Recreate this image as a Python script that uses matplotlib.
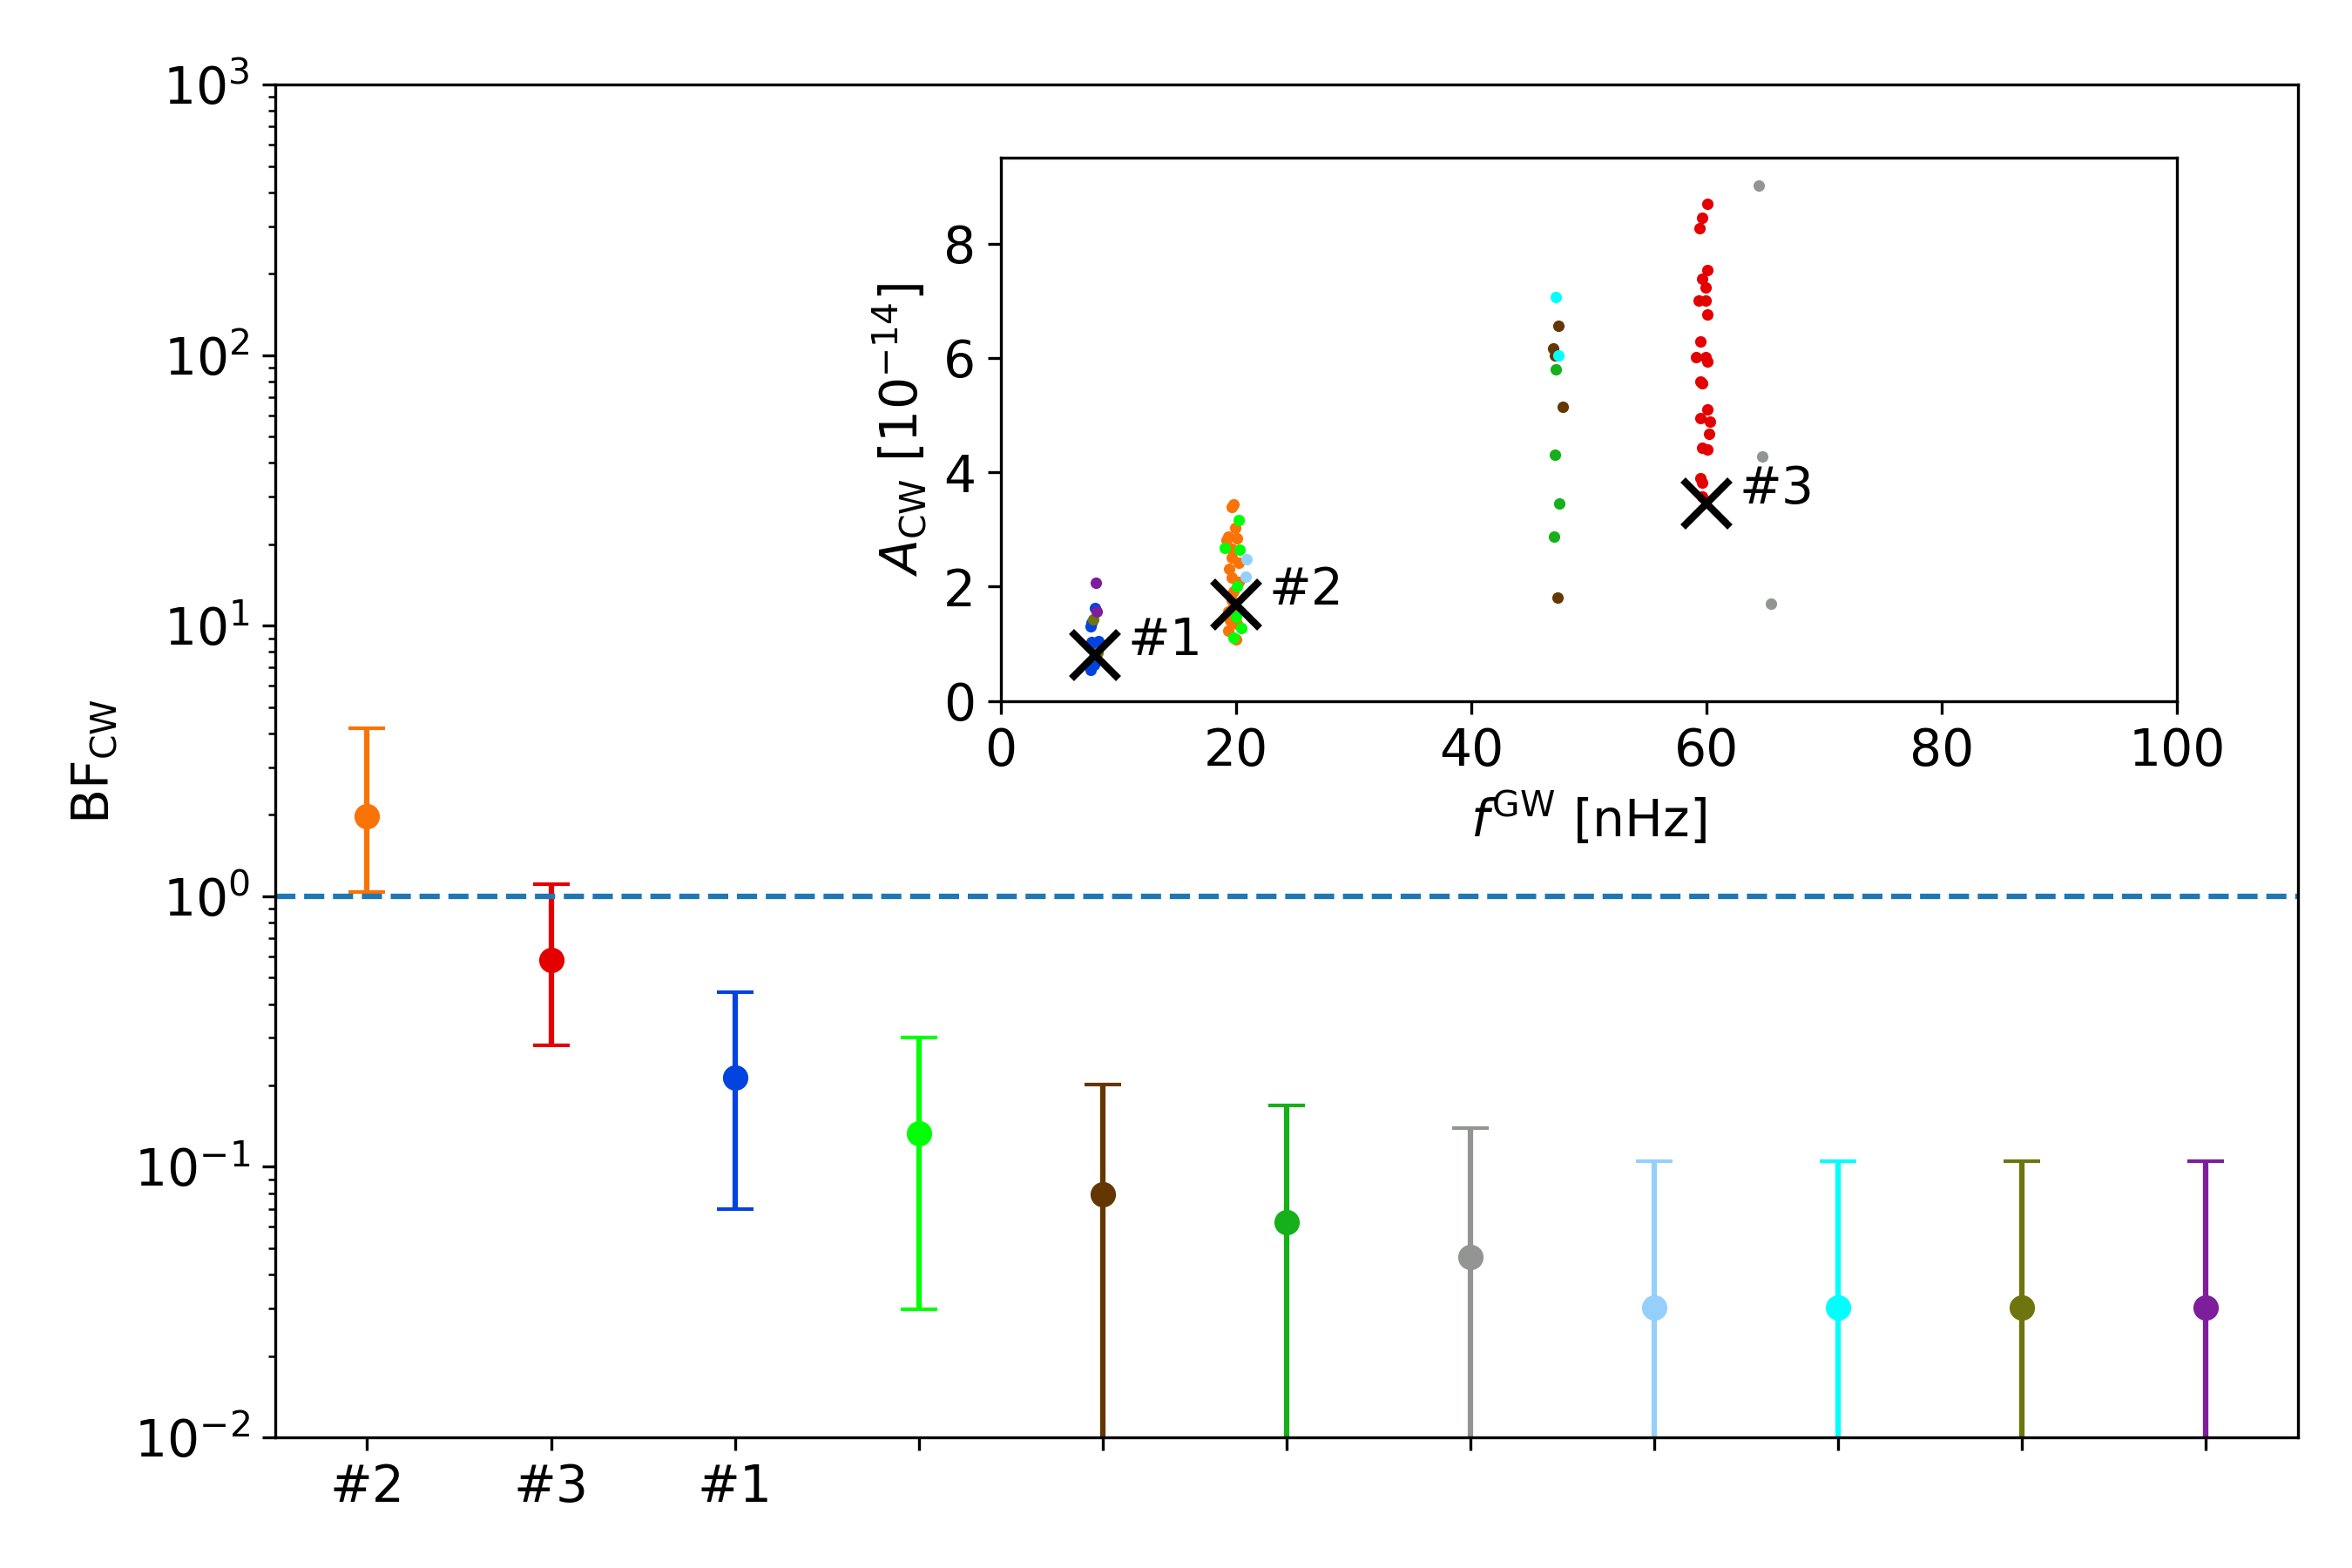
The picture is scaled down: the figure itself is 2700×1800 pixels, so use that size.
"""Bayes factors for continuous-wave candidates, with an inset of their recovered amplitudes."""

import matplotlib

matplotlib.use("Agg")
import matplotlib.pyplot as plt

plt.rcParams["font.size"] = 14

# main panel: one entry per candidate, ordered by median Bayes factor
TICK_LABELS = ["#2", "#3", "#1", "", "", "", "", "", "", "", ""]
COLORS = [
    "#f97306", "#e50000", "#0343df", "#01ff07", "#653700", "#15b01a",
    "#929591", "#95d0fc", "#00ffff", "#6e750e", "#7e1e9c",
]
BF_MEDIAN = [1.97, 0.583, 0.214, 0.133, 0.0794, 0.0623, 0.0464, 0.0302, 0.0302, 0.0302, 0.0302]
BF_UPPER = [4.19, 1.108, 0.441, 0.300, 0.202, 0.169, 0.139, 0.105, 0.105, 0.105, 0.105]
BF_LOWER = [1.04, 0.282, 0.070, 0.0297, 0.0, 0.0, 0.0, 0.0, 0.0, 0.0, 0.0]

# inset: recovered (frequency [nHz], amplitude [1e-14]) samples, grouped by colour
ORANGE_F = [19.8, 19.6, 19.9, 19.3, 20.1, 19.2, 19.6, 19.6, 20.2, 19.4, 19.6, 20.2, 19.8,
            19.6, 19.3, 19.5, 19.3, 20.0, 19.7, 20.1]
ORANGE_A = [3.44, 3.39, 3.02, 2.87, 2.85, 2.81, 2.66, 2.51, 2.41, 2.31, 2.16, 2.08, 1.91,
            1.76, 1.56, 1.41, 1.23, 1.08, 1.62, 1.35]
RED_F = [60.1, 59.6, 59.4, 60.1, 59.6, 59.9, 59.3, 59.9, 60.1, 59.5, 59.1, 59.9, 60.1,
         59.5, 59.6, 60.1, 59.5, 60.3, 60.2, 59.6, 60.1, 59.5, 59.6, 59.6]
RED_A = [8.69, 8.45, 8.27, 7.53, 7.38, 7.23, 7.00, 7.01, 6.76, 6.28, 6.01, 6.01, 5.94,
         5.59, 5.55, 5.10, 4.95, 4.89, 4.67, 4.43, 4.39, 3.89, 3.82, 3.58]
BLUE_F = [7.97, 7.7, 7.6, 7.7, 8.3, 8.1, 7.7, 7.95, 7.6, 8.4, 7.9]
BLUE_A = [1.62, 1.36, 1.30, 1.03, 1.05, 0.90, 0.63, 0.63, 0.55, 0.98, 0.75]
LIME_F = [20.2, 19.0, 20.3, 20.1, 20.0, 20.4, 19.8]
LIME_A = [3.17, 2.68, 2.65, 2.00, 1.47, 1.27, 1.10]
BROWN_F = [47.4, 46.95, 47.1, 47.8, 47.3]
BROWN_A = [6.56, 6.17, 6.04, 5.15, 1.81]
GREEN_F = [47.2, 47.1, 47.5, 47.0]
GREEN_A = [5.80, 4.30, 3.45, 2.87]
GREY_F = [64.4, 64.7, 65.5]
GREY_A = [9.02, 4.28, 1.70]
LIGHTBLUE_F = [20.9, 20.8]
LIGHTBLUE_A = [2.47, 2.18]
CYAN_F = [47.2, 47.4]
CYAN_A = [7.07, 6.05]
OLIVE_F = [7.85, 8.2]
OLIVE_A = [1.42, 0.85]
PURPLE_F = [8.1, 8.11]
PURPLE_A = [2.06, 1.57]

# labelled candidates in the inset
CANDIDATE_NAMES = ["#1", "#2", "#3"]
CANDIDATE_F = [8.0, 20.0, 60.0]
CANDIDATE_A = [0.8, 1.68, 3.45]


def main() -> None:
    figure = plt.figure(figsize=(9, 6), dpi=300)
    figure.subplots_adjust(left=0.117, right=0.977, bottom=0.0833, top=0.946)
    axis = figure.add_subplot(111)

    for index, color in enumerate(COLORS):
        median = BF_MEDIAN[index]
        yerr = [[median - BF_LOWER[index]], [BF_UPPER[index] - median]]
        axis.errorbar([index], [median], yerr=yerr, fmt="o", color=color, capsize=5)

    axis.axhline(1.0, color="C0", linestyle="--")
    axis.set_yscale("log")
    axis.set_ylim(1e-2, 1e3)
    axis.set_xlim(-0.5, len(COLORS) - 0.5)
    axis.set_xticks(range(len(TICK_LABELS)))
    axis.set_xticklabels(TICK_LABELS)
    axis.set_ylabel(r"BF$_{\rm CW}$")

    inset = figure.add_axes([0.4256, 0.553, 0.5, 0.3464])
    groups = [
        (ORANGE_F, ORANGE_A, COLORS[0]),
        (RED_F, RED_A, COLORS[1]),
        (BLUE_F, BLUE_A, COLORS[2]),
        (LIME_F, LIME_A, COLORS[3]),
        (BROWN_F, BROWN_A, COLORS[4]),
        (GREEN_F, GREEN_A, COLORS[5]),
        (GREY_F, GREY_A, COLORS[6]),
        (LIGHTBLUE_F, LIGHTBLUE_A, COLORS[7]),
        (CYAN_F, CYAN_A, COLORS[8]),
        (OLIVE_F, OLIVE_A, COLORS[9]),
        (PURPLE_F, PURPLE_A, COLORS[10]),
    ]
    for freqs, amps, color in groups:
        inset.scatter(freqs, amps, s=10, color=color, linewidths=0)

    inset.plot(CANDIDATE_F, CANDIDATE_A, "x", color="black", markersize=13, markeredgewidth=2)
    for name, freq, amp in zip(CANDIDATE_NAMES, CANDIDATE_F, CANDIDATE_A):
        inset.annotate(name, (freq, amp), xytext=(9, 0), textcoords="offset points",
                       ha="left", va="baseline")

    inset.set_xlim(0, 100)
    inset.set_ylim(0, 9.5)
    inset.set_xlabel(r"$f^{\rm GW}$ [nHz]")
    inset.set_ylabel(r"$A_{\rm CW}$ [$10^{-14}$]")

    figure.savefig("out.png")
    plt.close(figure)


if __name__ == "__main__":
    main()
